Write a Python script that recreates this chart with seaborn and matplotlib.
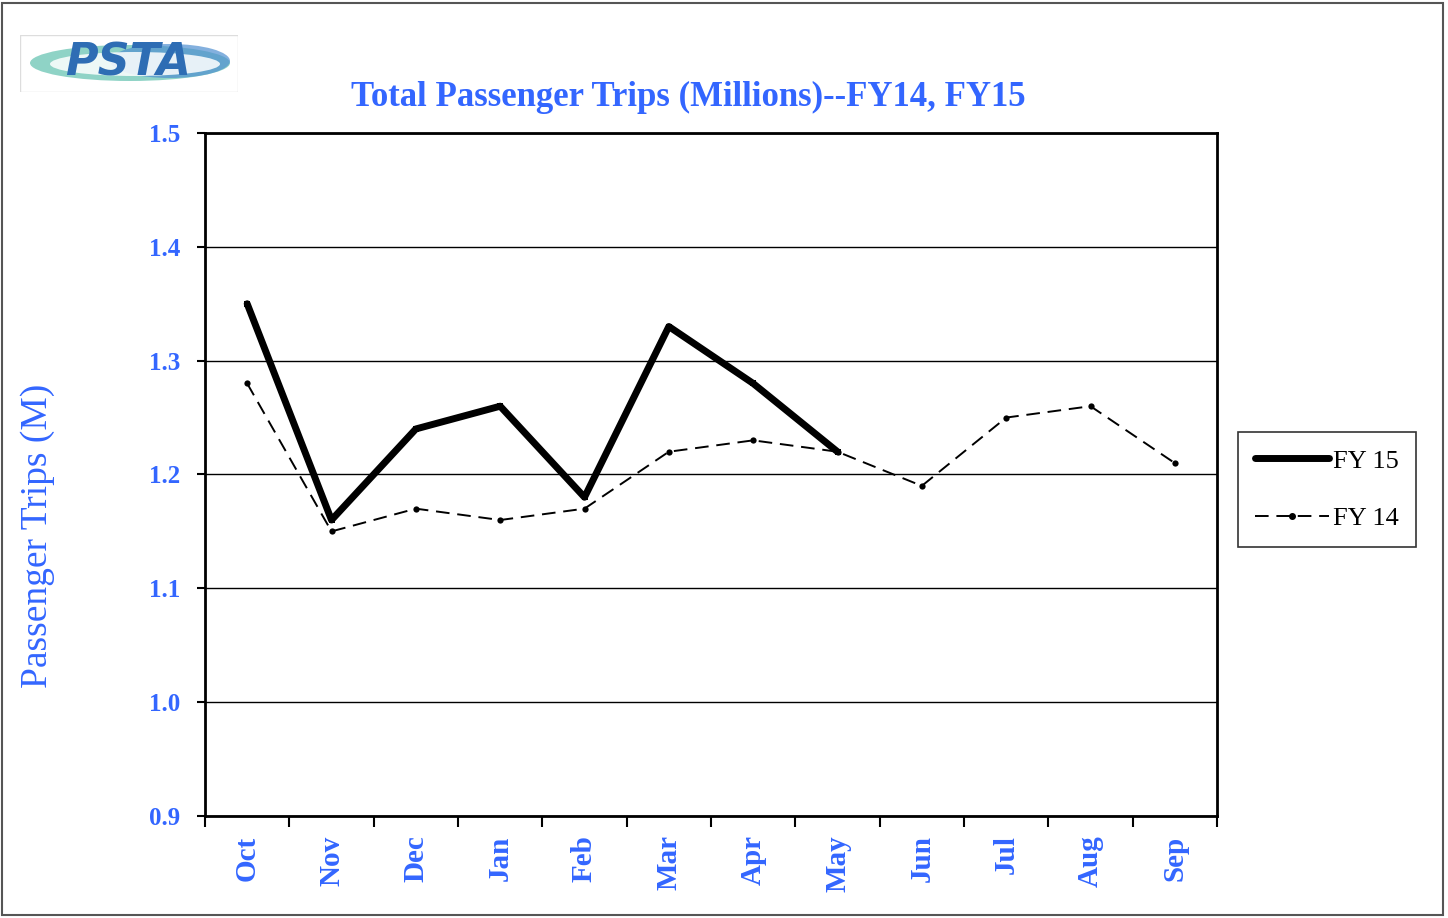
import matplotlib
matplotlib.use("Agg")
import matplotlib.pyplot as plt
from matplotlib.patches import Rectangle, Ellipse
from matplotlib.lines import Line2D
import seaborn as sns
import pandas as pd

months = ["Oct", "Nov", "Dec", "Jan", "Feb", "Mar", "Apr", "May", "Jun", "Jul", "Aug", "Sep"]
fy15 = [1.35, 1.16, 1.24, 1.26, 1.18, 1.33, 1.28, 1.22]
fy14 = [1.28, 1.15, 1.17, 1.16, 1.17, 1.22, 1.23, 1.22, 1.19, 1.25, 1.26, 1.21]
yticks = [0.9, 1.0, 1.1, 1.2, 1.3, 1.4, 1.5]

BLUE = "#3366ff"
SERIF = ["Liberation Serif", "DejaVu Serif"]

sns.set_theme(style="white")
plt.rcParams["font.family"] = SERIF

fig = plt.figure(figsize=(14.48, 9.18), dpi=100)
ax = fig.add_axes([205/1448, 1-816/918, (1217-205)/1448, (816-133)/918])

df14 = pd.DataFrame({"Month": months, "Trips": fy14, "pos": range(len(months))})
df15 = pd.DataFrame({"Month": months[:len(fy15)], "Trips": fy15, "pos": range(len(fy15))})

sns.lineplot(data=df14, x="pos", y="Trips", ax=ax, color="black", lw=1.4,
             dashes=False, linestyle=(0, (7, 4)), marker="o", markersize=4.5,
             markeredgewidth=0, label="FY 14")
sns.lineplot(data=df15, x="pos", y="Trips", ax=ax, color="black", lw=5,
             marker="s", markersize=5, markeredgewidth=0, label="FY 15")
ax.get_legend().remove()

ax.set_xlim(-0.5, len(months) - 0.5)
ax.set_ylim(0.9, 1.5)
ax.set_yticks(yticks)
ax.set_yticklabels([f"{v:.1f}" for v in yticks], color=BLUE, fontsize=18, fontweight="bold")
ax.yaxis.grid(True, color="black", lw=1)
ax.set_axisbelow(True)
ax.set_xticks(range(len(months)))
ax.set_xticklabels(months, rotation=90, color=BLUE, fontsize=21, fontweight="bold")
ax.tick_params(axis="x", which="major", length=0, pad=14)
ax.set_xticks([i - 0.5 for i in range(len(months) + 1)], minor=True)
ax.tick_params(axis="x", which="minor", length=8, width=1.5, direction="out", bottom=True, color="black")
ax.tick_params(axis="y", length=6, width=1.5, direction="out", left=True, color="black", pad=12)
for s in ax.spines.values():
    s.set_color("black")
    s.set_linewidth(2)
ax.set_xlabel("")
ax.set_ylabel("")
fig.text(38/1448, 1-536/918, "Passenger Trips (M)", color=BLUE, fontsize=27,
         rotation=90, ha="center", va="center")

fig.text(688/1448, 1-97/918, "Total Passenger Trips (Millions)--FY14, FY15", color=BLUE,
         fontsize=25, fontweight="bold", ha="center", va="center")

handles = [Line2D([], [], color="black", lw=5, solid_capstyle="round"),
           Line2D([], [], color="black", lw=1.4, linestyle=(0, (7, 4)), marker="o", markersize=4)]
leg = fig.legend(handles, ["FY 15", "FY 14"], loc="upper left",
                 bbox_to_anchor=(1238/1448, 1-432/918), fontsize=19, frameon=True,
                 fancybox=False, edgecolor="black", handlelength=2.8, handletextpad=0.15,
                 labelspacing=1.28, borderpad=0.65, borderaxespad=0)
leg.get_frame().set_linewidth(1.2)
for t in leg.get_texts():
    t.set_color("black")

# outer border
fig.patches.append(Rectangle((2/1448, 3/918), 1441/1448, 912/918, transform=fig.transFigure,
                             fill=False, edgecolor="#555555", lw=1.5))

# logo
lax = fig.add_axes([20/1448, 1-92/918, 218/1448, 57/918])
lax.set_xlim(0, 218)
lax.set_ylim(0, 57)
lax.axis("off")
lax.add_patch(Rectangle((0, 0), 218, 57, fill=False, edgecolor="#dddddd", lw=1))
lax.add_patch(Ellipse((110, 29), 200, 36, facecolor="#8fd3c6", edgecolor="none"))
lax.add_patch(Ellipse((150, 31), 120, 34, facecolor="#4f8fd0", edgecolor="none", alpha=0.7))
lax.add_patch(Ellipse((115, 28), 170, 24, facecolor="white", edgecolor="none", alpha=0.85))
lax.text(108, 29, "PSTA", color="#2e6db4", fontsize=32, fontweight="bold", style="italic",
         ha="center", va="center", family=["DejaVu Sans"])

fig.savefig("out.png", dpi=100)
